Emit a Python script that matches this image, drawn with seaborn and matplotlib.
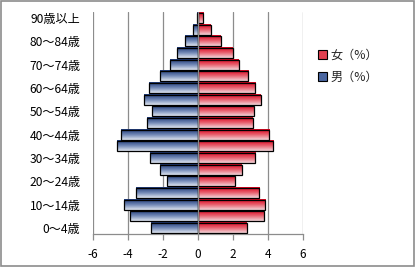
import numpy as np
import pandas as pd
import matplotlib
matplotlib.use("Agg")
import matplotlib.pyplot as plt
import seaborn as sns
from matplotlib.patches import Rectangle, Patch
from matplotlib.colors import LinearSegmentedColormap

ages = ["0～4歳", "5～9歳", "10～14歳", "15～19歳", "20～24歳", "25～29歳", "30～34歳",
        "35～39歳", "40～44歳", "45～49歳", "50～54歳", "55～59歳", "60～64歳", "65～69歳",
        "70～74歳", "75～79歳", "80～84歳", "85～89歳", "90歳以上"]
male = [-2.66, -3.90, -4.23, -3.54, -1.79, -2.17, -2.74, -4.63, -4.40, -2.93,
        -2.63, -3.09, -2.80, -2.19, -1.60, -1.18, -0.72, -0.29, -0.08]
female = [2.80, 3.77, 3.85, 3.49, 2.11, 2.51, 3.26, 4.29, 4.06, 3.14,
          3.20, 3.60, 3.26, 2.86, 2.34, 2.00, 1.31, 0.74, 0.29]
series = ["女（%）", "男（%）"]
xticks = [-6, -4, -2, 0, 2, 4, 6]

df = pd.DataFrame({
    "age": ages * 2,
    "sex": [series[0]] * len(ages) + [series[1]] * len(ages),
    "value": female + male,
})

sns.set_theme(style="white")
plt.rcParams["font.family"] = ["Noto Sans CJK JP", "DejaVu Sans"]

fig = plt.figure(figsize=(4.15, 2.67), dpi=100)
ax = fig.add_axes([0.224, 0.124, 0.506, 0.831])

order = ages[::-1]
red_c, blue_c = "#d0101e", "#27468a"
sns.barplot(data=df, x="value", y="age", hue="sex", order=order, hue_order=series,
            palette=[red_c, blue_c], dodge=False, orient="h", width=0.86,
            edgecolor="black", linewidth=0.9, ax=ax, legend=False, zorder=3)

cmap_r = LinearSegmentedColormap.from_list("r", ["#d8001a", "#e8606e", "#f3d6da"])
cmap_b = LinearSegmentedColormap.from_list("b", ["#1c3674", "#6f86b4", "#dfe5f0"])
grad = np.linspace(0, 1, 64).reshape(-1, 1)
for p in list(ax.patches):
    x0, y0 = p.get_x(), p.get_y()
    w, h = p.get_width(), p.get_height()
    if w == 0:
        continue
    cmap = cmap_r if p.get_facecolor()[0] > 0.5 else cmap_b
    ax.imshow(grad, cmap=cmap, aspect="auto", origin="upper",
              extent=(min(x0, x0 + w), max(x0, x0 + w), y0 + h, y0),
              zorder=2.9, interpolation="bilinear")
    p.set_facecolor("none")

ax.set_xlim(-6, 6)
ax.set_ylim(len(ages) - 0.5, -0.5)
ax.set_xticks(xticks)
ax.set_xticklabels([str(t) for t in xticks])
ax.set_yticks(range(len(order)))
ax.set_yticklabels([lab if i % 2 == 0 else "" for i, lab in enumerate(order)])
ax.set_xlabel("")
ax.set_ylabel("")

for x in xticks:
    if x != 0:
        ax.axvline(x, color="#8c8c8c", linewidth=0.9, zorder=1)
ax.axvline(0, color="#8c8c8c", linewidth=0.9, zorder=4)

for s in ["top", "right", "left"]:
    ax.spines[s].set_visible(False)
ax.spines["bottom"].set_color("#8c8c8c")
ax.spines["bottom"].set_linewidth(0.9)
ax.tick_params(axis="x", which="both", bottom=True, length=4, width=0.9,
               color="#8c8c8c", labelsize=8.5, pad=6, labelcolor="black")
ax.tick_params(axis="y", length=0, labelsize=8.7, pad=9, labelcolor="black")

handles = [Patch(facecolor="#e04050", edgecolor="black", linewidth=0.8),
           Patch(facecolor="#4a66a0", edgecolor="black", linewidth=0.8)]
fig.legend(handles, series, loc="upper left", bbox_to_anchor=(0.755, 0.835),
           frameon=False, fontsize=8.7, handlelength=0.75, handleheight=0.75,
           handletextpad=0.3, labelspacing=0.75, borderaxespad=0)

fig.patches.append(Rectangle((0.002, 0.003), 0.995, 0.993, transform=fig.transFigure,
                             fill=False, edgecolor="#8c8c8c", linewidth=1.2))

fig.savefig("out.png", dpi=100)
